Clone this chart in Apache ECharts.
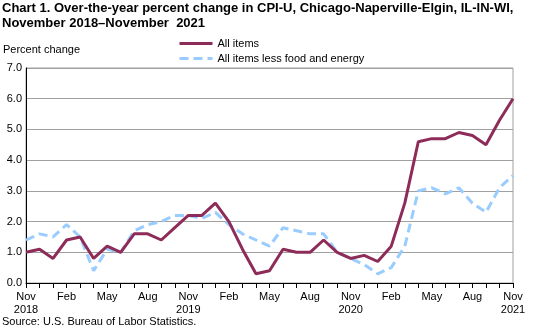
<!DOCTYPE html>
<html>
<head>
<meta charset="utf-8">
<script src="https://cdn.jsdelivr.net/npm/echarts@6/dist/echarts.min.js"></script>
<style>
  html, body { margin: 0; padding: 0; background: #fff; }
  #chart { width: 533px; height: 329px; }
</style>
</head>
<body>
<div id="chart"></div>
<script>
// Months from November 2018 to November 2021
const months = ['Nov','Dec','Jan','Feb','Mar','Apr','May','Jun','Jul','Aug','Sep','Oct',
                'Nov','Dec','Jan','Feb','Mar','Apr','May','Jun','Jul','Aug','Sep','Oct',
                'Nov','Dec','Jan','Feb','Mar','Apr','May','Jun','Jul','Aug','Sep','Oct',
                'Nov'];
const years = ['2018', '2019', '2020', '2021'];

// Over-the-year percent change
const allItems = [1.0, 1.1, 0.8, 1.4, 1.5, 0.8, 1.2, 1.0, 1.6, 1.6, 1.4, 1.8,
                  2.2, 2.2, 2.6, 2.0, 1.1, 0.3, 0.4, 1.1, 1.0, 1.0, 1.4, 1.0,
                  0.8, 0.9, 0.7, 1.2, 2.6, 4.6, 4.7, 4.7, 4.9, 4.8, 4.5, 5.3,
                  6.0];
const lessFoodEnergy = [1.4, 1.6, 1.5, 1.9, 1.5, 0.4, 1.1, 1.0, 1.7, 1.9, 2.0, 2.2,
                        2.2, 2.1, 2.3, 1.9, 1.6, 1.4, 1.2, 1.8, 1.7, 1.6, 1.6, 1.0,
                        0.8, 0.6, 0.3, 0.5, 1.2, 3.0, 3.1, 2.9, 3.1, 2.6, 2.3, 3.1,
                        3.5];

const font = 'Arial, "Liberation Sans", sans-serif';
const chart = echarts.init(document.getElementById('chart'), null, { renderer: 'canvas' });

chart.setOption({
  animation: false,
  textStyle: { fontFamily: font },
  title: [
    {
      text: 'Chart 1. Over-the-year percent change in CPI-U, Chicago-Naperville-Elgin, IL-IN-WI,\nNovember 2018\u2013November  2021',
      left: 2, top: 1, padding: 0,
      textStyle: { fontFamily: font, fontSize: 13, fontWeight: 'bold', color: '#000', lineHeight: 15 }
    },
    {
      text: 'Percent change',
      left: 3, top: 44, padding: 0,
      textStyle: { fontFamily: font, fontSize: 11, fontWeight: 'normal', color: '#000' }
    },
    {
      text: 'Source: U.S. Bureau of Labor Statistics.',
      left: 2, top: 316, padding: 0,
      textStyle: { fontFamily: font, fontSize: 11, fontWeight: 'normal', color: '#000' }
    }
  ],
  legend: {
    orient: 'vertical',
    left: 178, top: 38, padding: 0,
    itemWidth: 33, itemHeight: 10, itemGap: 4,
    itemStyle: { opacity: 0 },
    lineStyle: { width: 3 },
    textStyle: { fontFamily: font, fontSize: 11, color: '#000' },
    data: ['All items', 'All items less food and energy']
  },
  grid: {
    left: 26, right: 20, top: 68, bottom: 46,
    show: true, borderColor: '#a0a0a0', borderWidth: 1
  },
  xAxis: {
    type: 'category',
    data: months,
    boundaryGap: false,
    axisLine: { lineStyle: { color: '#000', width: 1 } },
    axisTick: { interval: 0, length: 5, lineStyle: { color: '#000' } },
    axisLabel: {
      interval: 2, color: '#000', fontSize: 11, fontFamily: font, margin: 7, lineHeight: 13,
      formatter: (v, i) => (i % 12 === 0 ? v + '\n' + years[i / 12] : v)
    },
    splitLine: { show: false }
  },
  yAxis: {
    type: 'value',
    min: 0, max: 7, interval: 1,
    axisLine: { show: true, lineStyle: { color: '#000', width: 1 } },
    axisTick: { show: false },
    axisLabel: { color: '#000', fontSize: 11, fontFamily: font, margin: 4, formatter: v => v.toFixed(1) },
    splitLine: { lineStyle: { color: '#a0a0a0', width: 1 } }
  },
  series: [
    {
      name: 'All items',
      type: 'line',
      data: allItems,
      symbol: 'none',
      color: '#8e2c59',
      lineStyle: { color: '#8e2c59', width: 3 },
      z: 3
    },
    {
      name: 'All items less food and energy',
      type: 'line',
      data: lessFoodEnergy,
      symbol: 'none',
      color: '#99ccff',
      lineStyle: { color: '#99ccff', width: 3, type: [9, 5] },
      z: 2
    }
  ]
});
</script>
</body>
</html>
